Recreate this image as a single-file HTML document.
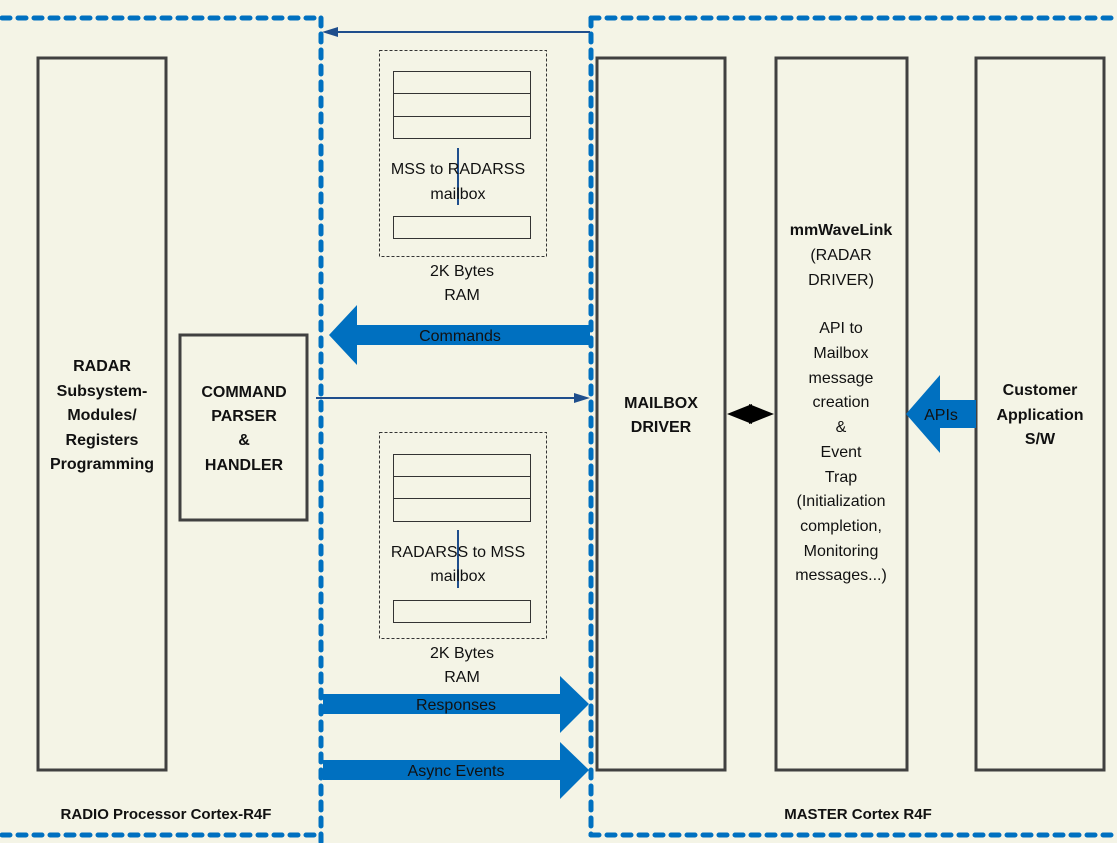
<!DOCTYPE html>
<html><head><meta charset="utf-8"><style>
html,body{margin:0;padding:0;background:#f4f4e6;}
svg{display:block;font-family:"Liberation Sans","DejaVu Sans",sans-serif;}
</style></head><body>
<svg width="1117" height="843" viewBox="0 0 1117 843" xmlns="http://www.w3.org/2000/svg">
<rect width="1117" height="843" fill="#f4f4e6"/>
<g stroke="#0070c0" stroke-width="5" stroke-dasharray="8 8" stroke-linecap="round" fill="none">
<line x1="2" y1="18" x2="321" y2="18"/>
<line x1="321" y1="18" x2="321" y2="843"/>
<line x1="2" y1="835" x2="321" y2="835"/>
<line x1="591" y1="18" x2="1115" y2="18"/>
<line x1="591" y1="18" x2="591" y2="835"/>
<line x1="591" y1="835" x2="1115" y2="835"/>
</g>
<g stroke="#404040" stroke-width="3" fill="none">
<rect x="38" y="58" width="128" height="712"/>
<rect x="180" y="335" width="127" height="185"/>
<rect x="597" y="58" width="128" height="712"/>
<rect x="776" y="58" width="131" height="712"/>
<rect x="976" y="58" width="128" height="712"/>
</g>
<g stroke="#333" stroke-width="1" fill="none">
<rect x="379.5" y="50.5" width="167" height="206" stroke-dasharray="3 2"/>
<rect x="393.5" y="71.5" width="137" height="67"/>
<line x1="393" y1="93.5" x2="530" y2="93.5"/><line x1="393" y1="116.5" x2="530" y2="116.5"/>
<rect x="393.5" y="216.5" width="137" height="22"/>
<rect x="379.5" y="432.5" width="167" height="206" stroke-dasharray="3 2"/>
<rect x="393.5" y="454.5" width="137" height="67"/>
<line x1="393" y1="476.5" x2="530" y2="476.5"/><line x1="393" y1="498.5" x2="530" y2="498.5"/>
<rect x="393.5" y="600.5" width="137" height="22"/>
</g>
<g stroke="#1f4e8c" stroke-width="2">
<line x1="458" y1="148" x2="458" y2="205"/>
<line x1="458" y1="530" x2="458" y2="588"/>
<line x1="590" y1="32" x2="336" y2="32"/>
<line x1="316" y1="398" x2="576" y2="398"/>
</g>
<polygon points="322,32 338,27 338,37" fill="#1f4e8c"/>
<polygon points="590,398 574,393 574,403" fill="#1f4e8c"/>
<g fill="#0070c0">
<polygon points="590,325 357,325 357,305 329,335 357,365 357,345 590,345"/>
<polygon points="323,694 560,694 560,676 589,704 560,733 560,714 323,714"/>
<polygon points="323,760 560,760 560,742 589,770 560,799 560,780 323,780"/>
<polygon points="976,400 940,400 940,375 906,414 940,453 940,428 976,428"/>
</g>
<polygon points="727,414 752,404 752,424" fill="#000"/>
<polygon points="774,414 749,404 749,424" fill="#000"/>
<g font-size="16" fill="#111" text-anchor="middle">
<text x="458" y="174">MSS to RADARSS</text><text x="458" y="199">mailbox</text>
<text x="462" y="276">2K Bytes</text><text x="462" y="300">RAM</text>
<text x="458" y="557">RADARSS to MSS</text><text x="458" y="581">mailbox</text>
<text x="462" y="658">2K Bytes</text><text x="462" y="682">RAM</text>
<text x="460" y="341">Commands</text>
<text x="456" y="710">Responses</text>
<text x="456" y="776">Async Events</text>
<text x="941" y="420">APIs</text>
<text x="841" y="260">(RADAR</text><text x="841" y="285">DRIVER)</text>
<text x="841" y="333">API to</text><text x="841" y="358">Mailbox</text><text x="841" y="383">message</text><text x="841" y="407">creation</text><text x="841" y="432">&amp;</text><text x="841" y="457">Event</text><text x="841" y="482">Trap</text><text x="841" y="506">(Initialization</text><text x="841" y="531">completion,</text><text x="841" y="556">Monitoring</text><text x="841" y="580">messages...)</text>
</g>
<g font-size="16" font-weight="bold" fill="#111" text-anchor="middle">
<text x="102" y="371">RADAR</text><text x="102" y="396">Subsystem-</text><text x="102" y="420">Modules/</text><text x="102" y="445">Registers</text><text x="102" y="469">Programming</text>
<text x="244" y="397">COMMAND</text><text x="244" y="421">PARSER</text><text x="244" y="445">&amp;</text><text x="244" y="470">HANDLER</text>
<text x="661" y="408">MAILBOX</text><text x="661" y="432">DRIVER</text>
<text x="841" y="235">mmWaveLink</text>
<text x="1040" y="395">Customer</text><text x="1040" y="420">Application</text><text x="1040" y="444">S/W</text>
<text x="166" y="819" font-size="15">RADIO Processor Cortex-R4F</text>
<text x="858" y="819" font-size="15">MASTER Cortex R4F</text>
</g>
</svg>
</body></html>
